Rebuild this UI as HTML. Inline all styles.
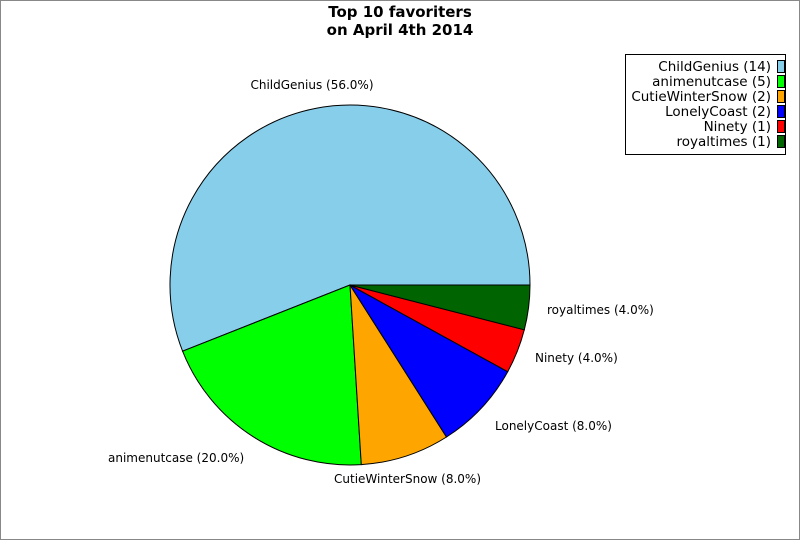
<!DOCTYPE html><html><head><style>body{margin:0}</style></head><body>
<svg width="800" height="540" xmlns="http://www.w3.org/2000/svg" font-family="DejaVu Sans, sans-serif">
<rect x="0.5" y="0.5" width="799" height="539" fill="#fff" stroke="#888"/>
<text x="400" y="17" text-anchor="middle" font-size="15" font-weight="bold">Top 10 favoriters</text>
<text x="400" y="35" text-anchor="middle" font-size="15" font-weight="bold">on April 4th 2014</text>
<g stroke="#000" stroke-width="1">
<path d="M350,285 L530,285 A180,180 0 1 0 182.6,351.2 Z" fill="#87ceeb"/>
<path d="M350,285 L182.6,351.2 A180,180 0 0 0 361.3,464.6 Z" fill="#00ff00"/>
<path d="M350,285 L361.3,464.6 A180,180 0 0 0 446.5,437 Z" fill="#ffa500"/>
<path d="M350,285 L446.5,437 A180,180 0 0 0 507.7,371.7 Z" fill="#0000ff"/>
<path d="M350,285 L507.7,371.7 A180,180 0 0 0 524.3,329.8 Z" fill="#ff0000"/>
<path d="M350,285 L524.3,329.8 A180,180 0 0 0 530,285 Z" fill="#006400"/>
</g>
<g font-size="12">
<text x="312" y="89" text-anchor="middle">ChildGenius (56.0%)</text>
<text x="108" y="462">animenutcase (20.0%)</text>
<text x="334" y="483">CutieWinterSnow (8.0%)</text>
<text x="495" y="430">LonelyCoast (8.0%)</text>
<text x="535" y="362">Ninety (4.0%)</text>
<text x="547" y="314">royaltimes (4.0%)</text>
</g>
<rect x="625.5" y="54.5" width="160" height="100" fill="#fff" stroke="#000"/>
<g font-size="13.5" text-anchor="end">
<text x="771" y="71">ChildGenius (14)</text>
<text x="771" y="86">animenutcase (5)</text>
<text x="771" y="101">CutieWinterSnow (2)</text>
<text x="771" y="116">LonelyCoast (2)</text>
<text x="771" y="131">Ninety (1)</text>
<text x="771" y="146">royaltimes (1)</text>
</g>
<g stroke="#000">
<rect x="777.5" y="60.5" width="7" height="12" fill="#87ceeb"/>
<rect x="777.5" y="75.5" width="7" height="12" fill="#00ff00"/>
<rect x="777.5" y="90.5" width="7" height="12" fill="#ffa500"/>
<rect x="777.5" y="105.5" width="7" height="12" fill="#0000ff"/>
<rect x="777.5" y="120.5" width="7" height="12" fill="#ff0000"/>
<rect x="777.5" y="135.5" width="7" height="12" fill="#006400"/>
</g>
</svg></body></html>
